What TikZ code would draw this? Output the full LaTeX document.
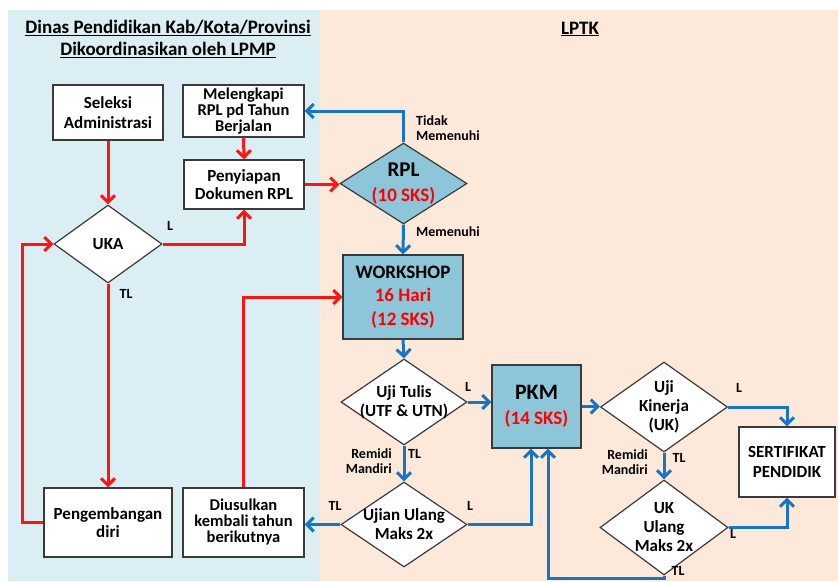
\documentclass[tikz,border=0pt]{standalone}
\usepackage{fontspec}
\setmainfont{Carlito}
\usetikzlibrary{arrows.meta,shapes.geometric,calc}
\definecolor{panelblue}{HTML}{DAEEF3}
\definecolor{panelpeach}{HTML}{FDE9D9}
\definecolor{nodeblue}{HTML}{8EC6D9}
\definecolor{arrred}{HTML}{FF1414}
\definecolor{arrblue}{HTML}{1874C4}
\definecolor{edgegray}{HTML}{3A3A3A}
\definecolor{redtext}{HTML}{FF0000}
\begin{document}
\begin{tikzpicture}[x=1pt,y=-1pt,
  box/.style={draw=edgegray, line width=1.2pt, fill=white, align=center, inner sep=0pt,
    font=\fontsize{17}{20}\selectfont\bfseries},
  dia/.style={diamond, draw=edgegray, line width=1.2pt, fill=white, inner sep=0pt},
  dtext/.style={align=center, inner sep=0pt, font=\fontsize{17}{19}\selectfont\bfseries},
  titletext/.style={inner sep=0pt, font=\fontsize{19}{23}\selectfont\bfseries},
  lbl/.style={inner sep=0pt, font=\fontsize{14}{14.5}\selectfont\bfseries},
  redarr/.style={draw=arrred, line width=3pt, -{Straight Barb[length=7pt,width=14pt]}},
  bluearr/.style={draw=arrblue, line width=3pt, -{Straight Barb[length=7pt,width=14pt]}}
]
\useasboundingbox (0,0) rectangle (838,581);
\fill[white] (0,0) rectangle (838,581);
\fill[panelblue] (8,10) rectangle (320,581);
\fill[panelpeach] (320,10) rectangle (838,581);

% titles
\node[titletext] (t1) at (168,28) {\underline{Dinas Pendidikan Kab/Kota/Provinsi}};
\node[titletext] (t2) at (168,50) {\underline{Dikoordinasikan oleh LPMP}};
\node[titletext] (t3) at (580,29) {\underline{LPTK}};

% boxes
\node[box, minimum width=110pt, minimum height=55pt] (sel) at (108,112.5) {Seleksi\\Administrasi};
\node[box, minimum width=121pt, minimum height=52pt, font=\fontsize{16.5}{16}\selectfont\bfseries] (mel) at (243.5,111) {Melengkapi\\RPL pd Tahun\\Berjalan};
\node[box, minimum width=120pt, minimum height=49pt, font=\fontsize{17}{18}\selectfont\bfseries] (pen) at (244,184.5) {Penyiapan\\Dokumen RPL};
\node[box, minimum width=128pt, minimum height=69pt, font=\fontsize{17}{18}\selectfont\bfseries] (peng) at (108,522.5) {Pengembangan\\diri};
\node[box, minimum width=121pt, minimum height=69pt, font=\fontsize{16.5}{16}\selectfont\bfseries] (dius) at (243.5,522.5) {Diusulkan\\kembali tahun\\berikutnya};
\node[box, fill=nodeblue, minimum width=120pt, minimum height=84pt, font=\fontsize{19}{23.5}\selectfont\bfseries] (ws) at (403,297) {WORKSHOP\\\textcolor{redtext}{16 Hari}\\\textcolor{redtext}{(12 SKS)}};
\node[box, fill=nodeblue, minimum width=89pt, minimum height=83pt, font=\fontsize{19}{25}\selectfont\bfseries] (pkm) at (536.5,406.5) {{\fontsize{22}{25}\selectfont PKM}\\\textcolor{redtext}{(14 SKS)}};
\node[box, minimum width=96pt, minimum height=70pt, font=\fontsize{17}{20}\selectfont\bfseries] (sert) at (787,462) {SERTIFIKAT\\PENDIDIK};

% diamonds
\node[dia, minimum width=108pt, minimum height=78pt, label={[dtext]center:UKA}] (uka) at (108,244) {};
\node[dia, fill=nodeblue, minimum width=127pt, minimum height=81pt,
  label={[dtext, font=\fontsize{19}{25}\selectfont\bfseries]center:{{\fontsize{21}{25}\selectfont RPL}\\\textcolor{redtext}{(10 SKS)}}}] (rpl) at (403.5,183.5) {};
\node[dia, minimum width=126pt, minimum height=86pt, label={[dtext]center:{Uji Tulis\\(UTF \& UTN)}}] (ut) at (404,402) {};
\node[dia, minimum width=126pt, minimum height=85pt, label={[dtext]center:{Ujian Ulang\\Maks 2x}}] (uu) at (404,524.5) {};
\node[dia, minimum width=127pt, minimum height=90pt, label={[dtext]center:{Uji\\Kinerja\\(UK)}}] (uk) at (664,407) {};
\node[dia, minimum width=128pt, minimum height=95pt, label={[dtext]center:{UK\\Ulang\\Maks 2x}}] (uku) at (664,527.5) {};

% red connectors
\draw[redarr] (sel.south) -- (uka.north);
\draw[redarr] (mel.south) -- (pen.north);
\draw[redarr] (uka.east) -| (pen.south);
\draw[redarr] (pen.east) -- (pen.east -| rpl.west);
\draw[redarr] (uka.south) -- (peng.north);
\draw[redarr] (peng.west) -- ++(-21,0) |- (uka.west);
\draw[redarr] (dius.north) |- (ws.west);

% blue connectors
\draw[bluearr] (rpl.north) |- (mel.east);
\draw[bluearr] (rpl.south) -- (ws.north);
\draw[bluearr] (ws.south) -- (ut.north);
\draw[bluearr] (ut.east) -- (ut.east -| pkm.west);
\draw[bluearr] (ut.south) -- (uu.north);
\draw[bluearr] (uu.east) -| ($(pkm.south)+(-5.5,0)$);
\draw[bluearr] (uu.west) -- (uu.west -| dius.east);
\draw[bluearr] (pkm.east) -- (pkm.east -| uk.west);
\draw[bluearr] (uk.east) -| (sert.north);
\draw[bluearr] (uk.south) -- (uku.north);
\draw[bluearr] (uku.east) -| (sert.south);
\draw[bluearr] (uku.south) -- ++(0,3) -| ($(pkm.south)+(11.5,0)$);

% labels
\node[lbl] (l1) at (170,226) {L};
\node[lbl] (l2) at (126,294) {TL};
\node[lbl, anchor=west, align=left] (l3) at (416,128) {Tidak\\Memenuhi};
\node[lbl, anchor=west] (l4) at (416,232) {Memenuhi};
\node[lbl] (l5) at (468,387) {L};
\node[lbl, anchor=east, align=right] (l6) at (392,461) {Remidi\\Mandiri};
\node[lbl, anchor=west] (l7) at (408,454) {TL};
\node[lbl] (l8) at (470,506) {L};
\node[lbl] (l9) at (335,506) {TL};
\node[lbl] (l10) at (739,388) {L};
\node[lbl, anchor=east, align=right] (l11) at (648,462) {Remidi\\Mandiri};
\node[lbl] (l12) at (679,458) {TL};
\node[lbl] (l13) at (733,534) {L};
\node[lbl] (l14) at (678,571) {TL};
\end{tikzpicture}
\end{document}
